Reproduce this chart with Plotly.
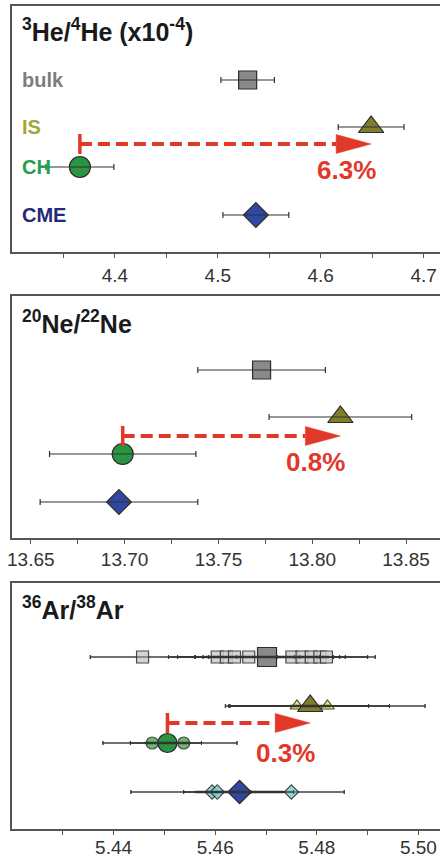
import plotly.graph_objects as go

# ---------------- data ----------------
GROUPS = ["bulk", "IS", "CH", "CME"]

HE_VAL = [4.529, 4.649, 4.366, 4.537]
HE_ERR = [0.026, 0.032, 0.033, 0.032]

NE_VAL = [13.773, 13.815, 13.699, 13.697]
NE_ERR = [0.034, 0.038, 0.039, 0.042]

AR_VAL = [5.4702, 5.4787, 5.4506, 5.4648]
AR_ERR = [0.0122, 0.0040, 0.0045, 0.0087]

# individual Ar measurements per group
AR_BULK_IND = [5.4457, 5.4604, 5.4622, 5.4638, 5.4666, 5.4751, 5.4771, 5.4789, 5.4806, 5.4819]
AR_BULK_IND_ERR = [0.0103, 0.0096, 0.0096, 0.0077, 0.0090, 0.0164, 0.0129, 0.0067, 0.0039, 0.0014]
AR_IS_IND = [5.4761, 5.4785, 5.4821]
AR_IS_IND_ERR = [0.0141, 0.0158, 0.0192]
AR_CH_IND = [5.4476, 5.4538]
AR_CH_IND_ERR = [0.0097, 0.0105]
AR_CME_IND = [5.4594, 5.4604, 5.4750]
AR_CME_IND_ERR = [0.0160, 0.0066, 0.0104]

SHIFT_LABELS = ["6.3%", "0.8%", "0.3%"]
PANEL_TITLES = ["<sup>3</sup>He/<sup>4</sup>He (x10<sup>-4</sup>)",
                "<sup>20</sup>Ne/<sup>22</sup>Ne",
                "<sup>36</sup>Ar/<sup>38</sup>Ar"]

HE_TICKS = [4.4, 4.5, 4.6, 4.7]
HE_TICKTEXT = ["4.4", "4.5", "4.6", "4.7"]
HE_MINOR = [4.35, 4.45, 4.55, 4.65]
NE_TICKS = [13.65, 13.70, 13.75, 13.80, 13.85]
NE_TICKTEXT = ["13.65", "13.70", "13.75", "13.80", "13.85"]
NE_MINOR = [13.675, 13.725, 13.775, 13.825]
AR_TICKS = [5.44, 5.46, 5.48, 5.50]
AR_TICKTEXT = ["5.44", "5.46", "5.48", "5.50"]
AR_MINOR = [5.43, 5.45, 5.47, 5.49]

# ---------------- layout constants ----------------
W, H = 440, 858
ML, MR, MT, MB = 12, 0, 6, 29
PLOT_W = W - ML - MR
PAPER_H = H - MT - MB
BOTTOM = H - MB

PANELS = [
    dict(top=6, bot=252, x0=4.3, pxu=1029.0, standoff=1),
    dict(top=296, bot=538, x0=13.64, pxu=1876.5, standoff=-1),
    dict(top=583, bot=829, x0=5.42, pxu=5080.0, standoff=-4),
]
ROW_Y = [[172, 125, 85, 37], [168, 121, 84, 36], [172, 123, 86, 37]]
ARROW_Y = [108, 102, 106]
TITLE_Y = [222, 216, 221]
PCT_Y = [82, 76, 76]

FONT = "Liberation Sans, Arial, sans-serif"
RED = "#e2382a"
EDGE = "#2b2b2b"
ERRC = "#333333"
MARK_COL = ["#8a8a8a", "#7f7e2a", "#2a9442", "#2f48a2"]
LABEL_COL = ["#7d7d7d", "#a7a436", "#1f9e4c", "#28297a"]
LIGHT_COL = ["#cdcdcd", "#e6ea3c", "#4fb054", "#80d2cd"]
SYMBOLS = ["square", "triangle-up", "circle", "diamond"]
SIZES = [18, 22, 21, 19]
AR_SIZES = [19, 22, 19, 18]
LIGHT_SIZES = [12, 12, 12, 11]

fig = go.Figure()


def err_trace(xv, yv, ev, axn, thick=1.2, width=3):
    return go.Scatter(
        x=xv, y=yv, mode="markers",
        marker=dict(size=1, color="rgba(0,0,0,0)"),
        error_x=dict(type="data", array=ev, color=ERRC, thickness=thick, width=width),
        xaxis="x" + axn, yaxis="y" + axn, hoverinfo="skip", showlegend=False,
    )


def mark_trace(xv, yv, color, symbol, size, axn, opacity=1.0):
    return go.Scatter(
        x=xv, y=yv, mode="markers",
        marker=dict(size=size, color=color, symbol=symbol, opacity=opacity,
                    line=dict(color=EDGE, width=1.2)),
        xaxis="x" + axn, yaxis="y" + axn, hoverinfo="skip", showlegend=False,
    )


# ---- He and Ne panels ----
for p, (vals, errs) in enumerate([(HE_VAL, HE_ERR), (NE_VAL, NE_ERR)]):
    axn = "" if p == 0 else str(p + 1)
    for g in range(4):
        fig.add_trace(mark_trace([vals[g]], [ROW_Y[p][g]], MARK_COL[g], SYMBOLS[g], SIZES[g], axn))
        fig.add_trace(err_trace([vals[g]], [ROW_Y[p][g]], [errs[g]], axn))

# ---- Ar panel ----
AR_IND = [(AR_BULK_IND, AR_BULK_IND_ERR), (AR_IS_IND, AR_IS_IND_ERR),
          (AR_CH_IND, AR_CH_IND_ERR), (AR_CME_IND, AR_CME_IND_ERR)]
for g in range(4):
    iv, ie = AR_IND[g]
    ys = [ROW_Y[2][g]] * len(iv)
    fig.add_trace(err_trace(iv, ys, ie, "3", thick=1.0, width=2))
    fig.add_trace(mark_trace(iv, ys, LIGHT_COL[g], SYMBOLS[g], LIGHT_SIZES[g], "3", opacity=0.85))
    fig.add_trace(err_trace(iv, ys, ie, "3", thick=0.8, width=2))
    fig.add_trace(mark_trace([AR_VAL[g]], [ROW_Y[2][g]], MARK_COL[g], SYMBOLS[g], AR_SIZES[g], "3"))
    fig.add_trace(err_trace([AR_VAL[g]], [ROW_Y[2][g]], [AR_ERR[g]], "3", thick=2.4, width=0))

# ---- axes ----
ALL_VALS = [HE_VAL, NE_VAL, AR_VAL]
TICKS = [(HE_TICKS, HE_TICKTEXT, HE_MINOR), (NE_TICKS, NE_TICKTEXT, NE_MINOR),
         (AR_TICKS, AR_TICKTEXT, AR_MINOR)]
shapes = []
annotations = []
for p, pan in enumerate(PANELS):
    axn = "" if p == 0 else str(p + 1)
    xr = [pan["x0"], pan["x0"] + PLOT_W / pan["pxu"]]
    hpx = pan["bot"] - pan["top"]
    dom = [(BOTTOM - pan["bot"]) / PAPER_H, (BOTTOM - pan["top"]) / PAPER_H]
    tv, tt, mv = TICKS[p]
    fig.update_layout(**{
        "xaxis" + axn: dict(
            range=xr, domain=[0, 1], anchor="y" + axn,
            tickmode="array", tickvals=tv, ticktext=tt,
            ticks="outside", ticklen=4, tickwidth=1.2, tickcolor="#555",
            minor=dict(tickmode="array", tickvals=mv, ticks="outside", ticklen=4,
                       tickwidth=1.2, tickcolor="#555", showgrid=False),
            showline=True, linecolor="#555", linewidth=1.5, mirror=True,
            showgrid=False, zeroline=False, fixedrange=True,
            tickfont=dict(family=FONT, size=19, color="#333"),
            ticklabelstandoff=pan["standoff"],
        ),
        "yaxis" + axn: dict(
            range=[0, hpx], domain=dom, anchor="x" + axn,
            showticklabels=False, ticks="", showgrid=False, zeroline=False,
            showline=True, linecolor="#555", linewidth=1.5, mirror=True,
            fixedrange=True,
        ),
    })

    vals = ALL_VALS[p]
    start = vals[2]  # CH
    tip = vals[1]    # IS
    ay = ARROW_Y[p]
    head_len = 35 / pan["pxu"]
    base = tip - head_len
    xref, yref = "x" + axn, "y" + axn
    shapes.append(dict(type="line", xref=xref, yref=yref, x0=start, x1=base, y0=ay, y1=ay,
                       line=dict(color=RED, width=4, dash="12px,6px")))
    shapes.append(dict(type="line", xref=xref, yref=yref, x0=start, x1=start, y0=ay - 10, y1=ay + 10,
                       line=dict(color=RED, width=3.5)))
    shapes.append(dict(type="path", xref=xref, yref=yref,
                       path=f"M {base} {ay + 9.5} L {tip} {ay} L {base} {ay - 9.5} Z",
                       fillcolor=RED, line=dict(color=RED, width=0.5)))
    annotations.append(dict(text=f"<b>{SHIFT_LABELS[p]}</b>", xref=xref, yref=yref,
                            x=tip - 25 / pan["pxu"], y=PCT_Y[p], showarrow=False,
                            xanchor="center", yanchor="middle",
                            font=dict(family=FONT, size=26, color=RED)))
    annotations.append(dict(text=f"<b>{PANEL_TITLES[p]}</b>", xref=xref + " domain", yref=yref,
                            x=0.018, y=TITLE_Y[p], showarrow=False,
                            xanchor="left", yanchor="middle",
                            font=dict(family=FONT, size=25, color="#1a1a1a")))

for g in range(4):
    annotations.append(dict(text=f"<b>{GROUPS[g]}</b>", xref="x domain", yref="y",
                            x=0.018, y=ROW_Y[0][g], showarrow=False,
                            xanchor="left", yanchor="middle",
                            font=dict(family=FONT, size=20, color=LABEL_COL[g])))

fig.update_layout(
    width=W, height=H,
    margin=dict(l=ML, r=MR, t=MT, b=MB, autoexpand=False),
    plot_bgcolor="white", paper_bgcolor="white",
    shapes=shapes, annotations=annotations,
    showlegend=False,
)

fig.write_html("out.html", config={"displayModeBar": False},
               post_script=["document.body.style.margin='0px';document.body.style.overflow='hidden';"])
